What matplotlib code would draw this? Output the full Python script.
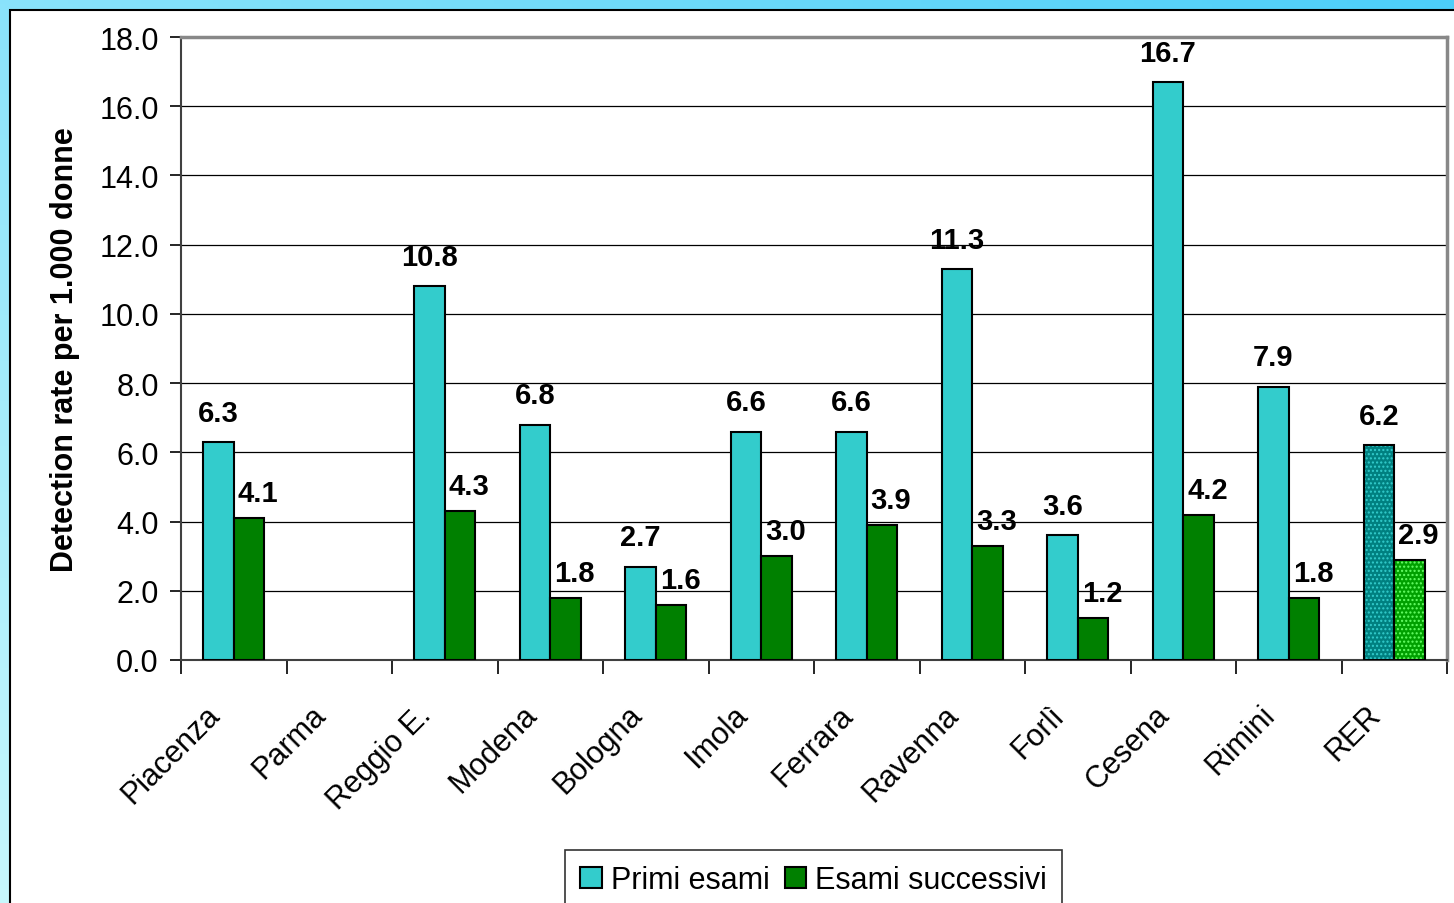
import numpy as np
import matplotlib
matplotlib.use("Agg")
import matplotlib.pyplot as plt
from matplotlib.patches import Rectangle
from matplotlib.transforms import ScaledTranslation

plt.rcParams['font.family'] = ['Liberation Sans', 'DejaVu Sans']

aziende = ["Piacenza", "Parma", "Reggio E.", "Modena", "Bologna", "Imola",
           "Ferrara", "Ravenna", "Forlì", "Cesena", "Rimini", "RER"]
primi = [6.3, np.nan, 10.8, 6.8, 2.7, 6.6, 6.6, 11.3, 3.6, 16.7, 7.9, 6.2]
successivi = [4.1, np.nan, 4.3, 1.8, 1.6, 3.0, 3.9, 3.3, 1.2, 4.2, 1.8, 2.9]
y_ticks = [0, 2, 4, 6, 8, 10, 12, 14, 16, 18]

fig = plt.figure(figsize=(14.54, 9.04), dpi=100)

# sfondo sfumato azzurro
bg = fig.add_axes([0, 0, 1, 1], zorder=-10)
xx, yy = np.meshgrid(np.linspace(0, 1, 300), np.linspace(0, 1, 200))
t = (xx + yy) / 2
light = np.array([0.78, 0.97, 0.99])
dark = np.array([0.30, 0.81, 0.98])
img = light[None, None, :] * (1 - t[..., None]) + dark[None, None, :] * t[..., None]
bg.imshow(img, origin='lower', extent=[0, 1, 0, 1], aspect='auto')
bg.add_patch(Rectangle((10 / 1454, -0.1), 1.2, 1 - 11 / 904 + 0.1,
                       facecolor='white', edgecolor='black', lw=1.5))
bg.set_xlim(0, 1)
bg.set_ylim(0, 1)
bg.axis('off')

ax = fig.add_axes([181 / 1454, 1 - 661 / 904, (1447 - 181) / 1454, (661 - 38) / 904])
ax.set_facecolor('white')

x = np.arange(len(aziende))
w = 0.29
n = len(aziende) - 1

ax.bar(x[:n] - w / 2, primi[:n], w, color='#33CCCC', edgecolor='black', lw=1.5, zorder=3)
ax.bar(x[:n] + w / 2, successivi[:n], w, color='#008000', edgecolor='black', lw=1.5, zorder=3)

# RER con retino a puntini
ax.bar(x[n] - w / 2, primi[n], w, color='#008080', edgecolor='#33CCCC', hatch='....', lw=0, zorder=3)
ax.bar(x[n] + w / 2, successivi[n], w, color='#00A000', edgecolor='#66FF66', hatch='....', lw=0, zorder=3)
ax.bar([x[n] - w / 2, x[n] + w / 2], [primi[n], successivi[n]], w, fill=False,
       edgecolor='black', lw=1.5, zorder=4)

for xi, p, s in zip(x, primi, successivi):
    if not np.isnan(p):
        ax.annotate(f"{p:.1f}", (xi - w / 2, p), xytext=(0, 21), textcoords='offset points',
                    ha='center', va='center', fontsize=21, fontweight='bold')
    if not np.isnan(s):
        ax.annotate(f"{s:.1f}", (xi + w / 2 + 0.085, s), xytext=(0, 18), textcoords='offset points',
                    ha='center', va='center', fontsize=21, fontweight='bold')

ax.set_xlim(-0.5, len(aziende) - 0.5)
ax.set_ylim(0, 18)
ax.set_yticks(y_ticks)
ax.set_yticklabels([f"{v:.1f}" for v in y_ticks], fontsize=22)
ax.tick_params(axis='y', length=8, width=1.2, pad=8)
ax.yaxis.grid(True, color='black', lw=0.9, zorder=0)
ax.set_axisbelow(True)

# etichette delle aziende ruotate a 45 gradi
ax.set_xticks(x)
ax.set_xticklabels([])
ax.tick_params(axis='x', which='major', length=0)
shift = ScaledTranslation(-0.18, -0.50, fig.dpi_scale_trans)
for xi, nome in zip(x, aziende):
    ax.text(xi, 0, nome, transform=ax.get_xaxis_transform() + shift, fontsize=22,
            rotation=45, ha='right', va='center', rotation_mode='anchor')
ax.set_xticks(np.arange(-0.5, len(aziende)), minor=True)
ax.tick_params(axis='x', which='minor', length=10, width=1.2)

ax.set_ylabel("Detection rate per 1.000 donne", fontsize=22, fontweight='bold', labelpad=14)

for side in ['left', 'bottom']:
    ax.spines[side].set_color('#404040')
    ax.spines[side].set_linewidth(1.5)
for side in ['top', 'right']:
    ax.spines[side].set_color('#888888')
    ax.spines[side].set_linewidth(2.5)

leg = fig.legend(handles=[Rectangle((0, 0), 1, 1, facecolor='#33CCCC', edgecolor='black', lw=1.5),
                          Rectangle((0, 0), 1, 1, facecolor='#008000', edgecolor='black', lw=1.5)],
                 labels=["Primi esami", "Esami successivi"], ncol=2, fontsize=22,
                 loc='upper left', bbox_to_anchor=(565 / 1454, 1 - 851 / 904),
                 frameon=True, fancybox=False, edgecolor='black', handlelength=0.7,
                 handleheight=0.7, handletextpad=0.3, columnspacing=0.5,
                 borderpad=0.5, borderaxespad=0)
leg.get_frame().set_linewidth(1.2)

fig.savefig("out.png", dpi=100)
